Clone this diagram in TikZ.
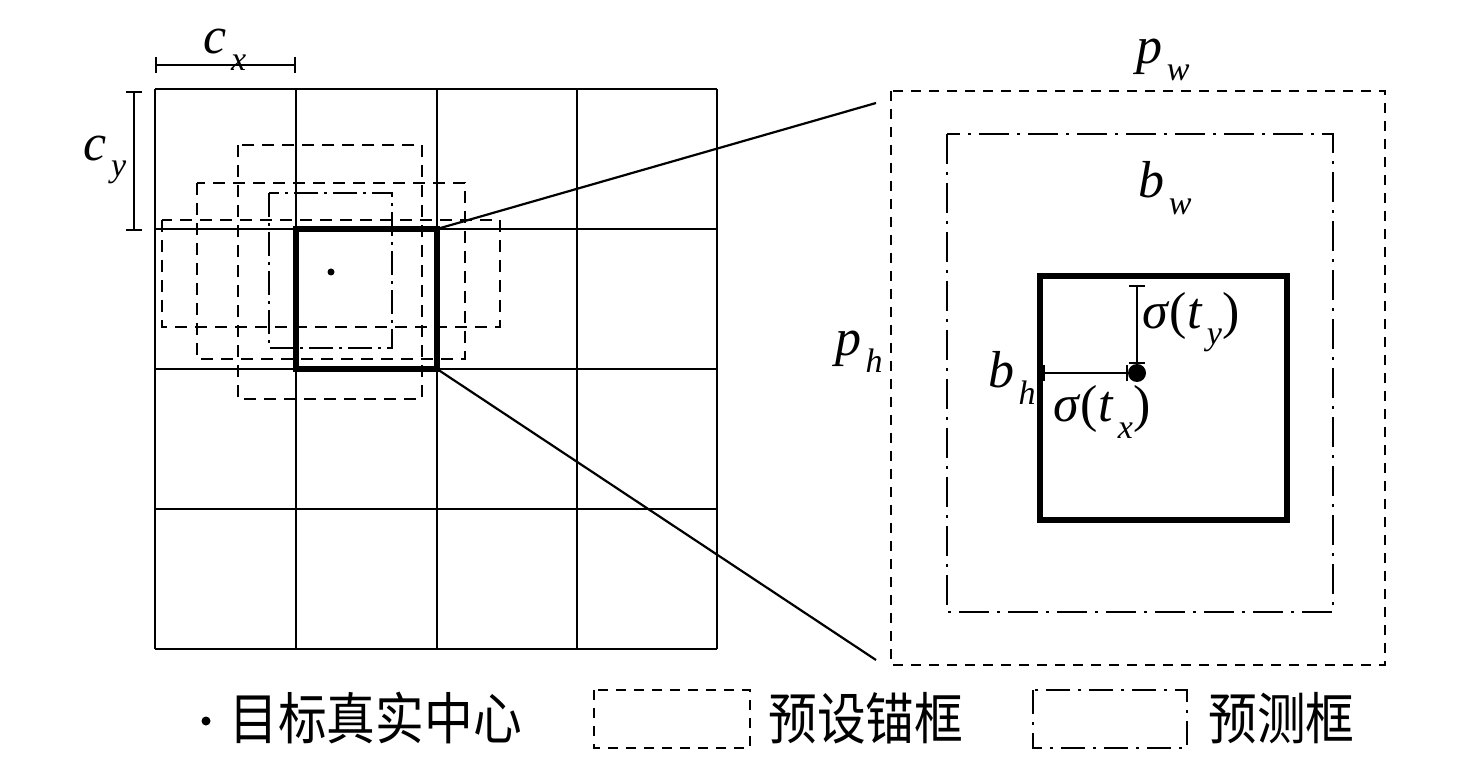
\documentclass[tikz,border=0pt]{standalone}
\usepackage{fontspec}
\newfontfamily\cjk{Noto Sans CJK SC}
\newfontfamily\tms{Liberation Serif}
\usetikzlibrary{arrows.meta}
\newcommand\vsub[2]{\textit{#1}\kern0.08em\raisebox{-0.32em}{\fontsize{17}{17}\selectfont\textit{#2}}}
\tikzset{
  gridline/.style={line width=1.3pt},
  thickbox/.style={line width=2.8pt},
  anchorbox/.style={line width=1pt, dash pattern=on 6pt off 4pt},
  predbox/.style={line width=1pt, dash pattern=on 12pt off 3pt on 1.5pt off 3pt},
  zoomline/.style={line width=1.1pt},
  dimline/.style={line width=1pt, {Bar[width=8pt]}-{Bar[width=8pt]}},
  lbl/.style={font=\fontsize{26}{30}\selectfont\tms, inner sep=0pt},
  cn/.style={font=\fontsize{28}{32}\selectfont\cjk, inner sep=0pt, anchor=west},
  dotsm/.style={circle, fill=black, inner sep=0pt, minimum size=3.5pt},
  dotbig/.style={circle, fill=black, inner sep=0pt, minimum size=9pt},
}
\begin{document}
\begin{tikzpicture}[x=0.5pt,y=-0.5pt]
\useasboundingbox (0,0) rectangle (1476,758);
% grid
\foreach \i in {155,296,437,577,717} \draw[gridline] (\i,89) -- (\i,649);
\foreach \j in {89,229,369,509,649} \draw[gridline] (155,\j) -- (717,\j);
% anchor boxes
\draw[anchorbox] (238,145) rectangle (422,399);
\draw[anchorbox] (197,183) rectangle (465,359);
\draw[anchorbox] (162,220) rectangle (500,327);
% predicted box
\draw[predbox] (269,193) rectangle (392,348);
% thick cell
\coordinate (tr) at (437,229);
\coordinate (br) at (437,369);
\draw[thickbox] (296,229) rectangle (437,369);
\node[dotsm] (gt) at (331,272) {};
% dimensions
\coordinate (cxa) at (155,65);
\coordinate (cxb) at (296,65);
\draw[dimline] (cxa) -- (cxb);
\node[lbl] (cx) at (225,50) {\vsub{c}{x}};
\coordinate (cya) at (134,91);
\coordinate (cyb) at (134,231);
\draw[dimline] (cya) -- (cyb);
\node[lbl] (cy) at (105,160) {\vsub{c}{y}};
% zoom lines
\coordinate (za) at (876,103);
\coordinate (zb) at (876,660);
\draw[zoomline] (tr) -- (za);
\draw[zoomline] (br) -- (zb);
% right panel
\draw[anchorbox, dash pattern=on 5pt off 4pt] (891,91) rectangle (1385,665);
\draw[predbox, dash pattern=on 15pt off 4pt on 1.5pt off 4pt] (947,134) rectangle (1333,612);
\draw[thickbox] (1040,276) rectangle (1287,520);
\node[dotbig] (pc) at (1137,373) {};
\coordinate (tya) at (1137,285);
\coordinate (txa) at (1043,373);
\draw[dimline] (tya) -- (pc.north);
\draw[dimline] (txa) -- (pc.west);
\node[lbl] (pw) at (1163,60) {\vsub{p}{w}};
\node[lbl] (bw) at (1165,188) {\vsub{b}{w}};
\node[lbl] (ph) at (859,352) {\vsub{p}{h}};
\node[lbl] (bh) at (1012,378) {\vsub{b}{h}};
\node[lbl] (sy) at (1191,322) {\textit{σ}(\vsub{t}{y})};
\node[lbl] (sx) at (1102,412) {\textit{σ}(\vsub{t}{x})};
% legend
\node[dotsm, minimum size=4.5pt] (ldot) at (206,721) {};
\node[cn] (l1) at (229,718) {\scalebox{0.87}[1]{目标真实中心}};
\draw[anchorbox, dash pattern=on 5pt off 4pt] (594,690) rectangle (750,748);
\node[cn] (l2) at (768,718) {\scalebox{0.87}[1]{预设锚框}};
\draw[predbox, dash pattern=on 12pt off 4pt on 1.5pt off 4pt] (1033,690) rectangle (1187,748);
\node[cn] (l3) at (1208,718) {\scalebox{0.87}[1]{预测框}};
\end{tikzpicture}
\end{document}
